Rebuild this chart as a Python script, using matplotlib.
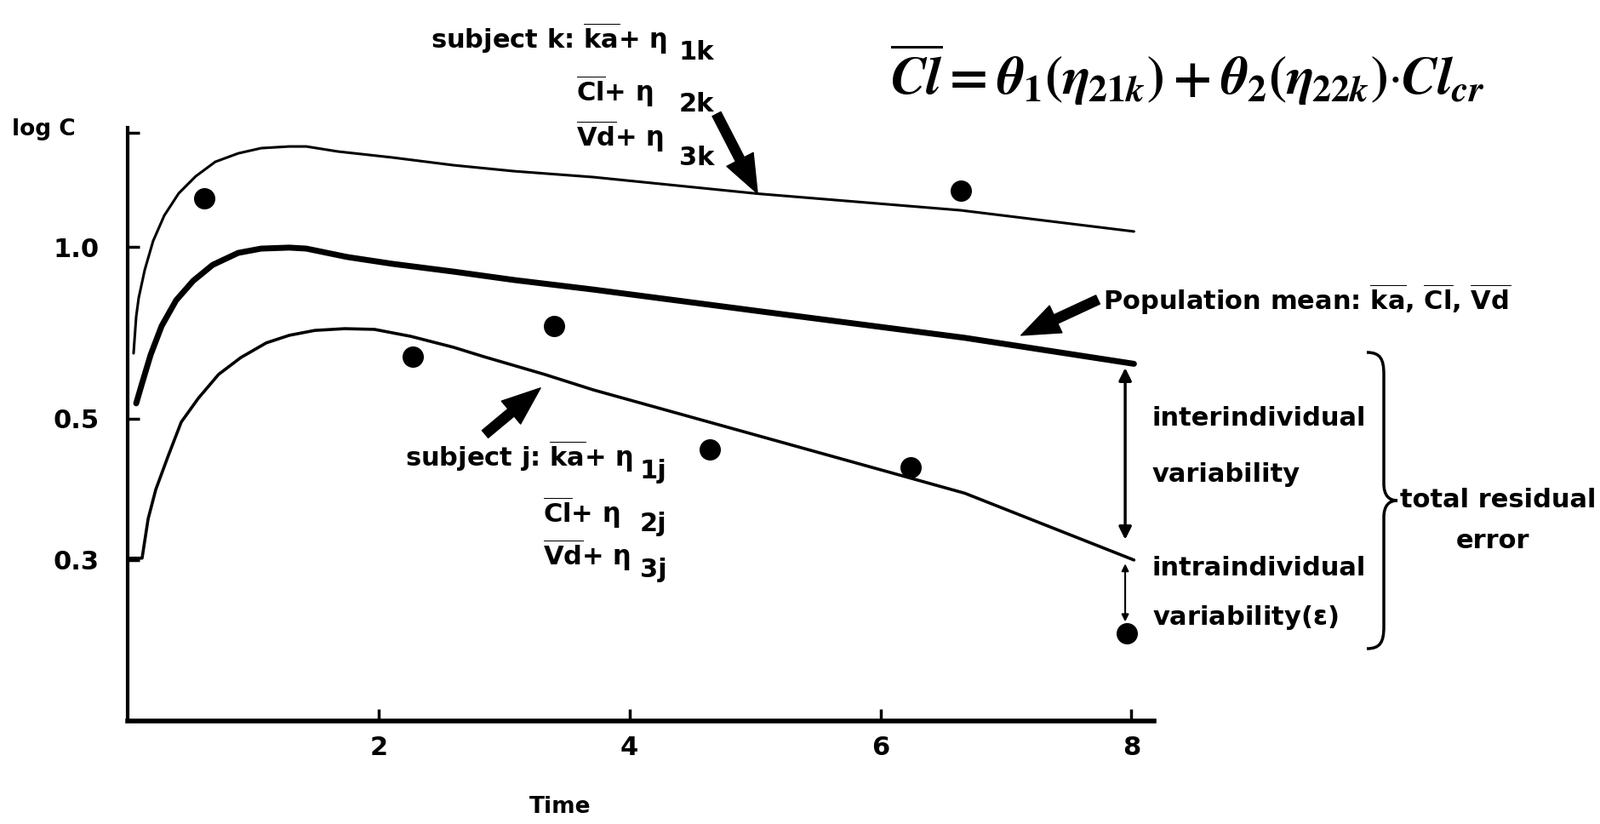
import numpy as np
import matplotlib
matplotlib.use('Agg')
import matplotlib.pyplot as plt
from matplotlib.path import Path
from matplotlib.patches import PathPatch
from matplotlib.transforms import IdentityTransform

plt.rcParams['font.family'] = ['DejaVu Sans']
plt.rcParams['font.weight'] = 'bold'
plt.rcParams['mathtext.fontset'] = 'custom'
plt.rcParams['mathtext.rm'] = 'DejaVu Sans:bold'
plt.rcParams['mathtext.it'] = 'DejaVu Sans:bold'
plt.rcParams['mathtext.bf'] = 'DejaVu Sans:bold'

# subject k (upper thin curve)
time_k = [0.047, 0.068, 0.088, 0.136, 0.203, 0.292, 0.407, 0.542, 0.698, 0.881,
          1.064, 1.288, 1.424, 1.675, 2.108, 2.597, 3.078, 3.708, 5.024, 6.637, 8.02]
conc_k = [0.651, 0.755, 0.814, 0.911, 1.024, 1.135, 1.241, 1.329, 1.409, 1.458,
          1.489, 1.499, 1.499, 1.469, 1.434, 1.390, 1.357, 1.325, 1.239, 1.159, 1.064]

# population mean (thick curve)
time_pop = [0.068, 0.115, 0.183, 0.271, 0.386, 0.522, 0.678, 0.881, 1.064, 1.288,
            1.424, 1.749, 2.108, 2.597, 3.078, 3.708, 5.200, 6.671, 8.02]
conc_pop = [0.532, 0.577, 0.647, 0.727, 0.806, 0.872, 0.930, 0.976, 0.993, 0.997,
            0.993, 0.960, 0.934, 0.905, 0.875, 0.842, 0.763, 0.693, 0.624]

# subject j (lower curve)
time_j = [0.020, 0.115, 0.163, 0.224, 0.319, 0.427, 0.563, 0.725, 0.902, 1.105,
          1.288, 1.492, 1.729, 1.966, 2.258, 2.597, 2.841, 3.322, 3.708, 5.200,
          6.671, 8.02]
conc_j = [0.302, 0.302, 0.348, 0.387, 0.435, 0.494, 0.543, 0.598, 0.640, 0.679,
          0.700, 0.714, 0.719, 0.717, 0.697, 0.667, 0.642, 0.598, 0.562, 0.460,
          0.382, 0.300]

# observations
obs_time = [0.61, 6.64, 2.27, 3.40, 4.64, 6.24, 7.96]
obs_conc = [1.216, 1.254, 0.642, 0.727, 0.448, 0.420, 0.230]

xticks = [2, 4, 6, 8]
yticks = [0.3, 0.5, 1.0, 1.584]
ytick_labels = ['0.3', '0.5', '1.0', '']

# hand drawn log axis: calibration of the printed ticks
scale_logc = np.log10([0.1, 0.3, 0.5, 1.0, 2.0])
scale_pos = [-725, -368, -202, 0, 202]


def fwd(v):
    v = np.clip(np.asarray(v, dtype=float), 1e-6, None)
    return np.interp(np.log10(v), scale_logc, scale_pos)


def inv(p):
    return 10 ** np.interp(p, scale_pos, scale_logc)


W, H = 1881, 968
fig = plt.figure(figsize=(W / 100, H / 100), dpi=100, facecolor='w')
ax = fig.add_axes([150 / W, 121 / H, 1206 / W, 697 / H])
ax.set_yscale('function', functions=(fwd, inv))
ax.set_xlim(0, 8.18)
ax.set_ylim(0.1676, 1.617)

ax.plot(time_k, conc_k, color='k', lw=2.2, solid_capstyle='round')
ax.plot(time_pop, conc_pop, color='k', lw=5, solid_capstyle='round')
ax.plot(time_j, conc_j, color='k', lw=2.6, solid_capstyle='round')
ax.plot(obs_time, obs_conc, 'o', color='k', ms=17)

for s in ['top', 'right']:
    ax.spines[s].set_visible(False)
ax.spines['left'].set_linewidth(3)
ax.spines['bottom'].set_linewidth(4)

ax.set_xticks(xticks)
ax.set_xticklabels([str(t) for t in xticks])
ax.set_yticks(yticks)
ax.set_yticklabels(ytick_labels)
ax.yaxis.set_minor_locator(plt.NullLocator())
ax.tick_params(axis='x', direction='in', length=10, width=2.5, pad=12, labelsize=22)
ax.tick_params(axis='y', direction='in', length=10, width=2.5, pad=24, labelsize=22)


def fpx(x, y):
    return x / W, 1 - y / H


fs = 22
fig.text(*fpx(14, 152), 'log C', fontsize=19, va='center', ha='left')
fig.text(*fpx(658, 948), 'Time', fontsize=19, va='center', ha='center')

# subject k label
fig.text(*fpx(506, 45), r'subject k: $\overline{\mathrm{ka}}$+ $\eta$', fontsize=fs, va='center')
fig.text(*fpx(798, 62), '1k', fontsize=fs, va='center')
fig.text(*fpx(677, 107), r'$\overline{\mathrm{Cl}}$+ $\eta$', fontsize=fs, va='center')
fig.text(*fpx(798, 123), '2k', fontsize=fs, va='center')
fig.text(*fpx(677, 160), r'$\overline{\mathrm{Vd}}$+ $\eta$', fontsize=fs, va='center')
fig.text(*fpx(798, 185), '3k', fontsize=fs, va='center')

# subject j label
fig.text(*fpx(476, 536), r'subject j: $\overline{\mathrm{ka}}$+ $\eta$', fontsize=fs, va='center')
fig.text(*fpx(752, 553), '1j', fontsize=fs, va='center')
fig.text(*fpx(638, 602), r'$\overline{\mathrm{Cl}}$+ $\eta$', fontsize=fs, va='center')
fig.text(*fpx(752, 616), '2j', fontsize=fs, va='center')
fig.text(*fpx(638, 652), r'$\overline{\mathrm{Vd}}$+ $\eta$', fontsize=fs, va='center')
fig.text(*fpx(752, 670), '3j', fontsize=fs, va='center')

fig.text(*fpx(1296, 352),
         r'Population mean: $\overline{\mathrm{ka}}$, $\overline{\mathrm{Cl}}$, $\overline{\mathrm{Vd}}$',
         fontsize=fs, va='center')
fig.text(*fpx(1354, 492), 'interindividual', fontsize=fs, va='center')
fig.text(*fpx(1354, 558), 'variability', fontsize=fs, va='center')
fig.text(*fpx(1354, 668), 'intraindividual', fontsize=fs, va='center')
fig.text(*fpx(1354, 726), r'variability($\epsilon$)', fontsize=fs, va='center')
fig.text(*fpx(1760, 588), 'total residual', fontsize=fs, va='center', ha='center')
fig.text(*fpx(1754, 636), 'error', fontsize=fs, va='center', ha='center')

fig.text(*fpx(1046, 88),
         r'$\overline{Cl} = \theta_1\left(\eta_{21k}\right) + \theta_2\left(\eta_{22k}\right)$·$Cl_{cr}$',
         fontsize=45, va='center', ha='left', math_fontfamily='stix', fontweight='normal',
         family='STIXGeneral')

# arrows
big = dict(arrowstyle='simple,head_width=1.4,head_length=1.8,tail_width=0.45',
           color='k', mutation_scale=18, shrinkA=0, shrinkB=0)
ax.annotate('', xy=(5.02, 1.24), xytext=(842, H - 134), textcoords='figure pixels',
            arrowprops=big, annotation_clip=False)
ax.annotate('', xy=(7.12, 0.70), xytext=(1290, H - 352), textcoords='figure pixels',
            arrowprops=big, annotation_clip=False)
ax.annotate('', xy=(3.29, 0.566), xytext=(570, H - 510), textcoords='figure pixels',
            arrowprops=big, annotation_clip=False)

ax.annotate('', xy=(7.95, 0.614), xytext=(7.95, 0.323),
            arrowprops=dict(arrowstyle='<|-|>', color='k', lw=2.5, mutation_scale=22,
                            shrinkA=0, shrinkB=0), annotation_clip=False)
ax.annotate('', xy=(7.95, 0.296), xytext=(7.95, 0.240),
            arrowprops=dict(arrowstyle='<|-|>', color='k', lw=1.5, mutation_scale=12,
                            shrinkA=0, shrinkB=0), annotation_clip=False)

# brace
pts = [(1606, 414), (1622, 414), (1626, 422), (1626, 440), (1626, 568),
       (1626, 582), (1632, 588), (1642, 588), (1632, 588), (1626, 594), (1626, 608),
       (1626, 736), (1626, 754), (1622, 762), (1606, 762)]
codes = [Path.MOVETO, Path.CURVE4, Path.CURVE4, Path.CURVE4, Path.LINETO,
         Path.CURVE4, Path.CURVE4, Path.CURVE4, Path.CURVE4, Path.CURVE4, Path.CURVE4,
         Path.LINETO, Path.CURVE4, Path.CURVE4, Path.CURVE4]
brace = Path([(x, H - y) for x, y in pts], codes)
fig.patches.append(PathPatch(brace, transform=IdentityTransform(), fill=False,
                             lw=2.5, color='k'))

fig.savefig('out.png', dpi=100, facecolor='w')
